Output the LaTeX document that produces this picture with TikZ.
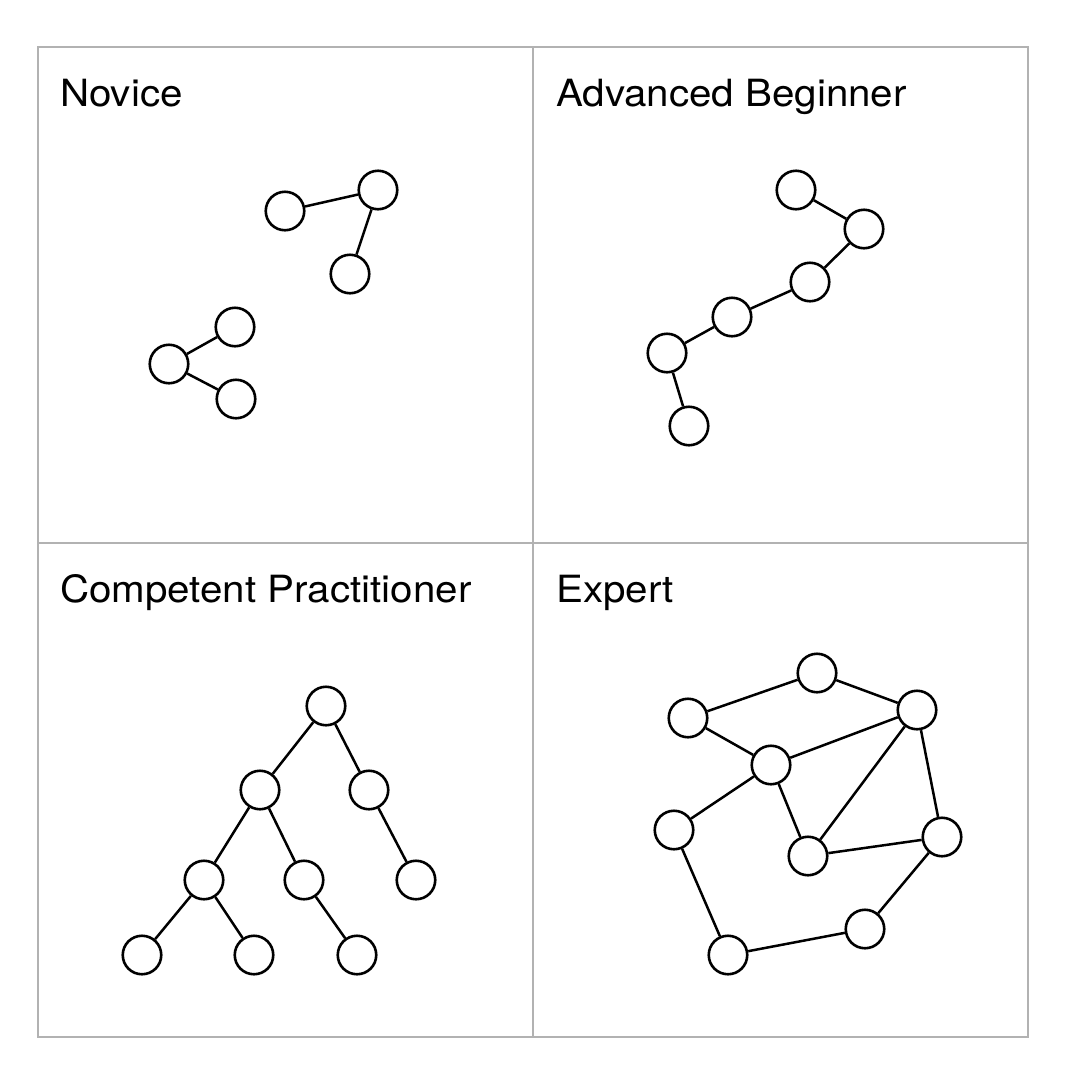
\documentclass[tikz,border=0pt]{standalone}
\usepackage{fontspec}
\usepackage{graphicx}
\setmainfont{TeX Gyre Heros}
\newcommand{\wideT}[1]{\scalebox{1.075}[1]{#1}}
\begin{document}
\begin{tikzpicture}[x=1pt,y=-1pt,
  vtx/.style={circle,draw=black,fill=white,line width=2.6pt,minimum size=38.5pt,inner sep=0pt},
  edge/.style={draw=black,line width=2.5pt},
  grid/.style={draw=gray!60,line width=1.4pt},
  title/.style={anchor=base west,inner sep=0pt,font=\fontsize{37.5}{44}\selectfont}]
\useasboundingbox[fill=white] (0,0) rectangle (1068,1088);
% grid
\draw[grid] (38,47) rectangle (1028,1037);
\draw[grid] (533,47) -- (533,1037);
\draw[grid] (38,543) -- (1028,543);
% titles
\node[title] (t1) at (60,106) {\wideT{Novice}};
\node[title] (t2) at (556,106) {\wideT{Advanced Beginner}};
\node[title] (t3) at (60,602) {\wideT{Competent Practitioner}};
\node[title] (t4) at (556,602) {\wideT{Expert}};
% Novice
\node[vtx] (n1) at (285,211) {};
\node[vtx] (n2) at (378,190) {};
\node[vtx] (n3) at (350,274) {};
\node[vtx] (n4) at (235,327) {};
\node[vtx] (n5) at (169,364) {};
\node[vtx] (n6) at (236,399) {};
\draw[edge] (n1) -- (n2);
\draw[edge] (n2) -- (n3);
\draw[edge] (n4) -- (n5);
\draw[edge] (n5) -- (n6);
% Advanced Beginner
\node[vtx] (a1) at (796,190) {};
\node[vtx] (a2) at (864,229) {};
\node[vtx] (a3) at (810,282) {};
\node[vtx] (a4) at (732,317) {};
\node[vtx] (a5) at (667,353) {};
\node[vtx] (a6) at (689,426) {};
\draw[edge] (a1) -- (a2);
\draw[edge] (a2) -- (a3);
\draw[edge] (a3) -- (a4);
\draw[edge] (a4) -- (a5);
\draw[edge] (a5) -- (a6);
% Competent Practitioner
\node[vtx] (c1) at (326,706) {};
\node[vtx] (c2) at (260,790) {};
\node[vtx] (c3) at (369,790) {};
\node[vtx] (c4) at (204,880) {};
\node[vtx] (c5) at (304,880) {};
\node[vtx] (c6) at (416,880) {};
\node[vtx] (c7) at (142,955) {};
\node[vtx] (c8) at (254,955) {};
\node[vtx] (c9) at (357,955) {};
\draw[edge] (c1) -- (c2);
\draw[edge] (c1) -- (c3);
\draw[edge] (c2) -- (c4);
\draw[edge] (c2) -- (c5);
\draw[edge] (c3) -- (c6);
\draw[edge] (c4) -- (c7);
\draw[edge] (c4) -- (c8);
\draw[edge] (c5) -- (c9);
% Expert
\node[vtx] (e1) at (817,673) {};
\node[vtx] (e2) at (688,718) {};
\node[vtx] (e3) at (917,710) {};
\node[vtx] (e4) at (771,765) {};
\node[vtx] (e5) at (674,830) {};
\node[vtx] (e6) at (808,856) {};
\node[vtx] (e7) at (942,837) {};
\node[vtx] (e8) at (865,929) {};
\node[vtx] (e9) at (728,955) {};
\draw[edge] (e2) -- (e1);
\draw[edge] (e1) -- (e3);
\draw[edge] (e2) -- (e4);
\draw[edge] (e4) -- (e3);
\draw[edge] (e3) -- (e6);
\draw[edge] (e3) -- (e7);
\draw[edge] (e4) -- (e5);
\draw[edge] (e4) -- (e6);
\draw[edge] (e6) -- (e7);
\draw[edge] (e7) -- (e8);
\draw[edge] (e8) -- (e9);
\draw[edge] (e9) -- (e5);
\end{tikzpicture}
\end{document}
